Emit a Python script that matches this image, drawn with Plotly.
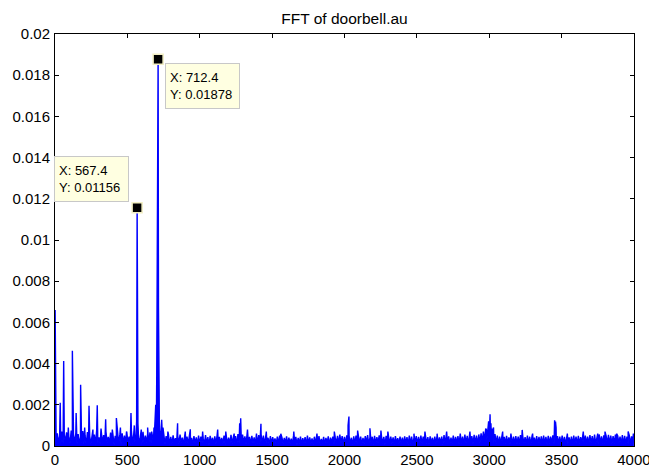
import numpy as np
import plotly.graph_objects as go

# ---- data ----
# noise floor, sampled every 8 Hz from 0 to 4000 Hz, values in units of 1e-5
noise_step_hz = 8
noise_1e5 = [
    30, 8, 62, 15, 48, 5, 70, 12, 55, 20, 66, 9, 40, 14, 75, 6, 52, 18, 64, 10,
    58, 7, 45, 16, 72, 11, 50, 4, 68, 22, 47, 9, 61, 13, 56, 6, 78, 15, 42, 8,
    60, 12, 53, 5, 70, 17, 44, 9, 65, 14, 58, 6, 49, 19, 73, 10, 55, 7, 62, 13,
    50, 8, 67, 15, 46, 6, 72, 11, 57, 18, 48, 9, 63, 14, 54, 5, 69, 12, 51, 16,
    59, 7, 66, 13, 52, 20, 74, 10, 58, 15, 80, 12, 62, 18, 55, 9, 48, 14, 57, 6,
    44, 8, 52, 14, 38, 6, 49, 11, 55, 17, 41, 5, 50, 12, 46, 9, 53, 15, 39, 7,
    48, 13, 42, 6, 51, 10, 45, 16, 37, 8, 53, 12, 43, 5, 49, 14, 40, 9, 47, 11,
    52, 7, 44, 15, 39, 10, 50, 6, 46, 13, 41, 8, 54, 11, 43, 16, 48, 5, 58, 12,
    62, 9, 55, 14, 47, 7, 51, 12, 44, 10, 49, 15, 42, 6, 60, 11, 53, 8, 57, 13,
    50, 9, 46, 13, 40, 6, 48, 11, 43, 15, 37, 8, 45, 12, 51, 5, 42, 10, 39, 14,
    47, 7, 41, 12, 36, 9, 49, 14, 44, 6, 40, 11, 46, 8, 38, 13, 43, 5, 50, 10,
    42, 12, 37, 6, 45, 10, 40, 14, 48, 7, 35, 11, 44, 9, 39, 13, 47, 6, 41, 15,
    46, 8, 43, 12, 49, 10, 55, 14, 48, 7, 44, 11, 52, 9, 45, 13, 40, 6, 47, 12,
    50, 9, 42, 13, 46, 7, 39, 11, 48, 15, 53, 8, 41, 12, 45, 6, 49, 10, 43, 14,
    52, 8, 47, 12, 44, 6, 49, 13, 40, 9, 46, 11, 42, 7, 48, 14, 38, 10, 45, 12,
    41, 9, 47, 13, 43, 6, 50, 11, 45, 8, 39, 14, 48, 10, 44, 7, 51, 12, 46, 9,
    49, 11, 43, 7, 47, 13, 40, 9, 45, 12, 50, 8, 42, 14, 46, 6, 53, 10, 44, 12,
    47, 8, 41, 12, 50, 10, 44, 14, 48, 7, 52, 11, 46, 9, 55, 13, 49, 8, 53, 12,
    48, 10, 54, 13, 50, 8, 56, 15, 62, 20, 70, 25, 85, 30, 95, 28, 78, 22, 66, 15,
    58, 12, 50, 9, 46, 14, 52, 8, 44, 11, 49, 13, 42, 7, 51, 10, 45, 12, 48, 9,
    46, 11, 53, 8, 47, 13, 43, 9, 50, 12, 45, 7, 49, 14, 41, 10, 48, 8, 44, 12,
    47, 9, 51, 13, 44, 7, 49, 11, 46, 15, 52, 10, 43, 8, 48, 12, 45, 9, 50, 13,
    44, 8, 48, 12, 42, 10, 46, 7, 50, 13, 45, 9, 49, 11, 43, 14, 47, 8, 51, 12,
    46, 10, 53, 13, 48, 8, 55, 12, 50, 9, 56, 14, 47, 11, 52, 7, 49, 13, 54, 10,
    51, 9, 48, 12, 55, 8, 50, 14, 46, 10, 53, 7, 49, 12, 45, 9, 52, 11, 47, 13,
    40,
]

# isolated narrow spikes above the noise floor
spike_freq = [1, 36, 60, 92, 120, 146, 177, 205, 235, 262, 292, 318, 350, 396,
              424, 452, 494, 525, 548, 596, 640, 668, 684, 737, 746, 780, 847,
              900, 935, 1020, 1124, 1180, 1238, 1276, 1283, 1330, 1418, 1423,
              1460, 1560, 1650, 1810, 1930, 2025, 2031, 2091, 2176, 2252, 2300,
              2480, 2556, 2640, 2706, 2800, 2867, 2980, 2990, 2996, 3002, 3006,
              3012, 3020, 3030, 3093, 3150, 3228, 3300, 3452, 3458, 3462, 3540,
              3650, 3750, 3800, 3880, 3960, 3996]
spike_val = [0.0066, 0.0021, 0.00413, 0.0009, 0.00462, 0.0016, 0.00297, 0.0009,
             0.00195, 0.0008, 0.00198, 0.00085, 0.0013, 0.0008, 0.00136, 0.0009,
             0.0007, 0.0016, 0.0010, 0.0008, 0.0009, 0.0007, 0.0009, 0.00127,
             0.0009, 0.0007, 0.0011, 0.0007, 0.00081, 0.0007, 0.0008, 0.0007,
             0.0006, 0.0011, 0.00135, 0.0008, 0.0009, 0.00108, 0.0007, 0.0006,
             0.0007, 0.0006, 0.0007, 0.0010, 0.00143, 0.00075, 0.00086, 0.00075,
             0.0007, 0.0006, 0.0007, 0.0006, 0.0007, 0.0006, 0.0007, 0.0008,
             0.00105, 0.0012, 0.00135, 0.00154, 0.0011, 0.00085, 0.0009, 0.0007,
             0.0006, 0.00078, 0.0006, 0.00125, 0.00118, 0.0009, 0.0006, 0.0007,
             0.0006, 0.0007, 0.0006, 0.0007, 0.0006]

# the two main tones
peak1_freq = [560, 564, 567.4, 570, 573, 577]
peak1_val = [0.0005, 0.0012, 0.01156, 0.0072, 0.0011, 0.0004]
peak2_freq = [696, 700, 703, 706, 709, 712.4, 715, 718, 721, 726]
peak2_val = [0.0020, 0.0006, 0.0035, 0.0114, 0.0070, 0.01878, 0.0068, 0.0029, 0.0012, 0.0007]

# data tips
tip_freq = [712.4, 567.4]
tip_val = [0.01878, 0.01156]
tip_text = ["X: 712.4<br>Y: 0.01878", "X: 567.4<br>Y: 0.01156"]

x_ticks = [0, 500, 1000, 1500, 2000, 2500, 3000, 3500, 4000]
y_ticks = [0, 0.002, 0.004, 0.006, 0.008, 0.01, 0.012, 0.014, 0.016, 0.018, 0.02]
y_ticktext = ["0", "0.002", "0.004", "0.006", "0.008", "0.01", "0.012", "0.014",
              "0.016", "0.018", "0.02"]

# ---- build the spectrum ----
grid_f = np.arange(len(noise_1e5)) * noise_step_hz
grid_v = np.array(noise_1e5) * 1e-5
keep = ~(((grid_f >= 556) & (grid_f <= 580)) | ((grid_f >= 692) & (grid_f <= 728)))
f_all = np.concatenate([grid_f[keep], spike_freq, peak1_freq, peak2_freq])
v_all = np.concatenate([grid_v[keep], spike_val, peak1_val, peak2_val])
order = np.argsort(f_all, kind="stable")
f_all = f_all[order]
v_all = v_all[order]

fig = go.Figure()
fig.add_trace(go.Scatter(x=f_all, y=v_all, mode="lines", fill="tozeroy",
                         fillcolor="#0000ff",
                         line=dict(color="#0000ff", width=1.4), hoverinfo="skip"))
fig.add_trace(go.Scatter(x=tip_freq, y=tip_val, mode="markers",
                         marker=dict(symbol="square", size=10, color="black",
                                     line=dict(color="#f3efc4", width=1.5)),
                         hoverinfo="skip"))

shifts = [(7, -4), (-83, 52)]
for fx, fy, txt, (dx, dy) in zip(tip_freq, tip_val, tip_text, shifts):
    fig.add_annotation(x=fx, y=fy, xref="x", yref="y", text=txt, showarrow=False,
                       xanchor="left", yanchor="top", xshift=dx, yshift=dy,
                       align="left", width=65, height=36, borderpad=4,
                       bgcolor="#ffffe1", bordercolor="#c8c8c8", borderwidth=1,
                       font=dict(family="Liberation Sans, Arial", size=13, color="black"))

axis_common = dict(showline=True, linecolor="black", linewidth=1, mirror="ticks",
                   ticks="inside", ticklen=4, tickcolor="black", tickwidth=1,
                   showgrid=False, zeroline=False, ticklabeloverflow="allow",
                   automargin=False,
                   tickfont=dict(family="Liberation Sans, Arial", size=15, color="black"))

fig.update_layout(
    width=649, height=467,
    margin=dict(l=55, r=15, t=34, b=21),
    paper_bgcolor="white", plot_bgcolor="white",
    showlegend=False,
    title=dict(text="FFT of doorbell.au", x=0.5, xref="paper", xanchor="center",
               y=1 - 18.5 / 467, yanchor="middle", automargin=False,
               font=dict(family="Liberation Sans, Arial", size=15.5, color="black")),
    xaxis=dict(range=[0, 4000.5], tickvals=x_ticks, ticklabelstandoff=0, **axis_common),
    yaxis=dict(range=[0, 0.02], tickvals=y_ticks, ticktext=y_ticktext,
               ticklabelstandoff=1, **axis_common),
)

fig.write_html("out.html")
